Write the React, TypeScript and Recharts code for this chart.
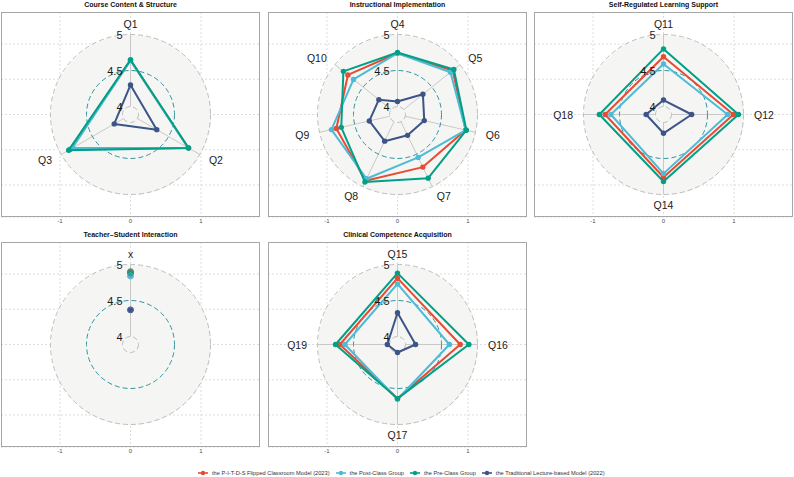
import React from "react";
import {
  RadarChart,
  Radar,
  PolarGrid,
  PolarAngleAxis,
  PolarRadiusAxis,
  ScatterChart,
  XAxis,
  YAxis,
  CartesianGrid,
} from "recharts";

const seriesNames = [
  "the P-I-T-D-S Flipped Classroom Model (2023)",
  "the Post-Class Group",
  "the Pre-Class Group",
  "the Traditional Lecture-based Model (2022)",
];
const seriesKeys = ["flipped", "post", "pre", "trad"];
const seriesColors = ["#E64B35", "#4DBBD5", "#00A087", "#3C5488"];

// Course Content & Structure
const contentItems = ["Q1", "Q2", "Q3"];
const contentFlipped = [4.64, 4.82, 4.86];
const contentPost = [4.64, 4.81, 4.82];
const contentPre = [4.65, 4.82, 4.88];
const contentTrad = [4.3, 4.31, 4.15];

// Instructional Implementation
const implItems = ["Q4", "Q5", "Q6", "Q7", "Q8", "Q9", "Q10"];
const implFlipped = [4.74, 4.87, 4.86, 4.7, 4.91, 4.76, 4.77];
const implPost = [4.74, 4.83, 4.86, 4.55, 4.88, 4.83, 4.67];
const implPre = [4.75, 4.89, 4.87, 4.87, 4.93, 4.69, 4.85];
const implTrad = [4.07, 4.34, 4.27, 4.21, 4.3, 4.29, 4.22];

// Self-Regulated Learning Support
const selfItems = ["Q11", "Q12", "Q14", "Q18"];
const selfFlipped = [4.69, 4.86, 4.76, 4.7];
const selfPost = [4.59, 4.78, 4.71, 4.62];
const selfPre = [4.8, 4.93, 4.82, 4.78];
const selfTrad = [4.09, 4.28, 4.15, 4.13];

// Teacher-Student Interaction
const interItems = ["x"];
const interFlipped = [4.88];
const interPost = [4.84];
const interPre = [4.9];
const interTrad = [4.37];

// Clinical Competence Acquisition
const clinItems = ["Q15", "Q16", "Q17", "Q19"];
const clinFlipped = [4.81, 4.76, 4.64, 4.69];
const clinPost = [4.73, 4.61, 4.65, 4.62];
const clinPre = [4.88, 4.88, 4.64, 4.75];
const clinTrad = [4.33, 4.14, 4.0, 4.03];

const radiusTicks = [4, 4.5, 5];
const xTicks = [-1, 0, 1];
const yTicks = [-1, -0.5, 0, 0.5, 1];

const PANEL_W = 259;
const PANEL_H = 205;
const CX = 129.5;
const CY = 102.5;
const R_IN = 8;
const R_OUT = 80;
const X_HALF = 1.837;
const Y_HALF = 1.454;

const radiusOf = (v: number) => R_IN + ((R_OUT - R_IN) * (v - 4)) / (5 - 4);

const panels = [
  { title: "Course Content & Structure", items: contentItems, values: [contentFlipped, contentPost, contentPre, contentTrad], left: 1, top: 12 },
  { title: "Instructional Implementation", items: implItems, values: [implFlipped, implPost, implPre, implTrad], left: 268, top: 12 },
  { title: "Self-Regulated Learning Support", items: selfItems, values: [selfFlipped, selfPost, selfPre, selfTrad], left: 534, top: 12 },
  { title: "Teacher\u2013Student Interaction", items: interItems, values: [interFlipped, interPost, interPre, interTrad], left: 1, top: 242 },
  { title: "Clinical Competence Acquisition", items: clinItems, values: [clinFlipped, clinPost, clinPre, clinTrad], left: 268, top: 242 },
];

function AngleTick(props: any) {
  const { x, y, payload, textAnchor } = props;
  // push labels a little further out than the default tick offset
  const ox = ((x - CX) / (R_OUT + 8)) * 2.5;
  const oy = ((y - CY) / (R_OUT + 8)) * 2.5;
  return (
    <text x={x + ox} y={y + oy} textAnchor={textAnchor} dominantBaseline="central" fontSize={10.5} fill="#1a1a1a">
      {payload.value}
    </text>
  );
}

function RadiusTick(props: any) {
  const { x, y, payload } = props;
  return (
    <text x={x - 8} y={y} textAnchor="end" dominantBaseline="central" fontSize={11} fill="#1a1a1a">
      {payload.value}
    </text>
  );
}

// radar outline + dots drawn from the points the library computes
function RadarShape(props: any) {
  const { points, stroke } = props;
  if (!points || !points.length) return null;
  const d = points.map((pt: any, i: number) => `${i === 0 ? "M" : "L"}${pt.x},${pt.y}`).join(" ") + " Z";
  return (
    <g>
      {points.length > 1 && <path d={d} fill="none" stroke={stroke} strokeWidth={2} strokeLinejoin="round" />}
      {points.map((pt: any, i: number) => (
        <circle key={i} cx={pt.x} cy={pt.y} r={2.7} fill={stroke} />
      ))}
    </g>
  );
}

function Panel({ p }: { p: (typeof panels)[number] }) {
  const data = p.items.map((q, i) => {
    const row: Record<string, any> = { q };
    seriesKeys.forEach((k, s) => (row[k] = p.values[s][i]));
    return row;
  });

  return (
    <div style={{ position: "absolute", left: p.left, top: p.top, width: PANEL_W, height: PANEL_H }}>
      <div
        style={{
          position: "absolute",
          left: 0,
          top: -12,
          width: PANEL_W,
          height: 9,
          lineHeight: "9px",
          textAlign: "center",
          fontSize: 7,
          fontWeight: 700,
          color: "#111",
        }}
      >
        {p.title}
      </div>
      <div style={{ position: "absolute", left: 0, top: 0 }}>
        <ScatterChart width={PANEL_W} height={PANEL_H + 14} margin={{ top: 0, right: 0, bottom: 0, left: 0 }}>
          <CartesianGrid stroke="#dcdcdc" strokeDasharray="2 2" />
          <XAxis
            type="number"
            dataKey="x"
            domain={[-X_HALF, X_HALF]}
            ticks={xTicks}
            allowDataOverflow
            axisLine={false}
            tickLine={false}
            tickSize={1}
            tickMargin={1}
            height={14}
            tick={{ fontSize: 6, fill: "#4d4d4d" }}
          />
          <YAxis type="number" dataKey="y" hide domain={[-Y_HALF, Y_HALF]} ticks={yTicks} allowDataOverflow />
        </ScatterChart>
      </div>
      <div
        style={{
          position: "absolute",
          left: CX - R_OUT,
          top: CY - R_OUT,
          width: R_OUT * 2,
          height: R_OUT * 2,
          borderRadius: "50%",
          background: "#F5F5F3",
        }}
      />
      <div style={{ position: "absolute", left: 0, top: 0 }}>
        <RadarChart
          width={PANEL_W}
          height={PANEL_H}
          data={data}
          cx={CX}
          cy={CY}
          innerRadius={R_IN}
          outerRadius={R_OUT}
          margin={{ top: 0, right: 0, bottom: 0, left: 0 }}
        >
          <PolarGrid gridType="circle" polarRadius={[]} stroke="#c4c4c4" strokeWidth={0.9} />
          <PolarGrid
            gridType="circle"
            radialLines={false}
            polarRadius={[radiusOf(4), radiusOf(5)]}
            stroke="#bdbdbd"
            strokeDasharray="5 3"
          />
          <PolarGrid
            gridType="circle"
            radialLines={false}
            polarRadius={[radiusOf(4.5)]}
            stroke="#2f95a3"
            strokeDasharray="5 3"
          />
          <PolarAngleAxis dataKey="q" axisLine={false} tickLine={false} tick={(t: any) => <AngleTick {...t} />} />
          <PolarRadiusAxis
            angle={90}
            domain={[4, 5]}
            ticks={radiusTicks as any}
            tickCount={radiusTicks.length}
            axisLine={false}
            allowDataOverflow
            tick={(t: any) => <RadiusTick {...t} />}
          />
          {seriesKeys.map((k, s) => (
            <Radar
              key={k}
              dataKey={k}
              stroke={seriesColors[s]}
              fill="none"
              fillOpacity={0}
              shape={(sp: any) => <RadarShape {...sp} stroke={seriesColors[s]} />}
              isAnimationActive={false}
            />
          ))}
        </RadarChart>
      </div>
      <div
        style={{
          position: "absolute",
          left: 0,
          top: 0,
          width: PANEL_W,
          height: PANEL_H,
          boxSizing: "border-box",
          border: "1px solid #a6a6a6",
          pointerEvents: "none",
        }}
      />
    </div>
  );
}

export default function App() {
  return (
    <div
      style={{
        position: "absolute",
        left: 0,
        top: 0,
        width: 794,
        height: 477,
        background: "#fff",
        fontFamily: "'Liberation Sans', Arial, sans-serif",
        overflow: "hidden",
      }}
    >
      {panels.map((p) => (
        <Panel key={p.title} p={p} />
      ))}
      <div
        style={{
          position: "absolute",
          left: 198,
          top: 468,
          height: 10,
          display: "flex",
          alignItems: "center",
          fontSize: 5.7,
          color: "#333",
          whiteSpace: "nowrap",
        }}
      >
        {seriesNames.map((n, i) => (
          <div key={n} style={{ display: "flex", alignItems: "center", marginRight: 6 }}>
            <svg width={10} height={6}>
              <line x1={0} y1={3} x2={10} y2={3} stroke={seriesColors[i]} strokeWidth={1.6} />
              <circle cx={5} cy={3} r={2.2} fill={seriesColors[i]} />
            </svg>
            <span style={{ marginLeft: 4 }}>{n}</span>
          </div>
        ))}
      </div>
    </div>
  );
}
